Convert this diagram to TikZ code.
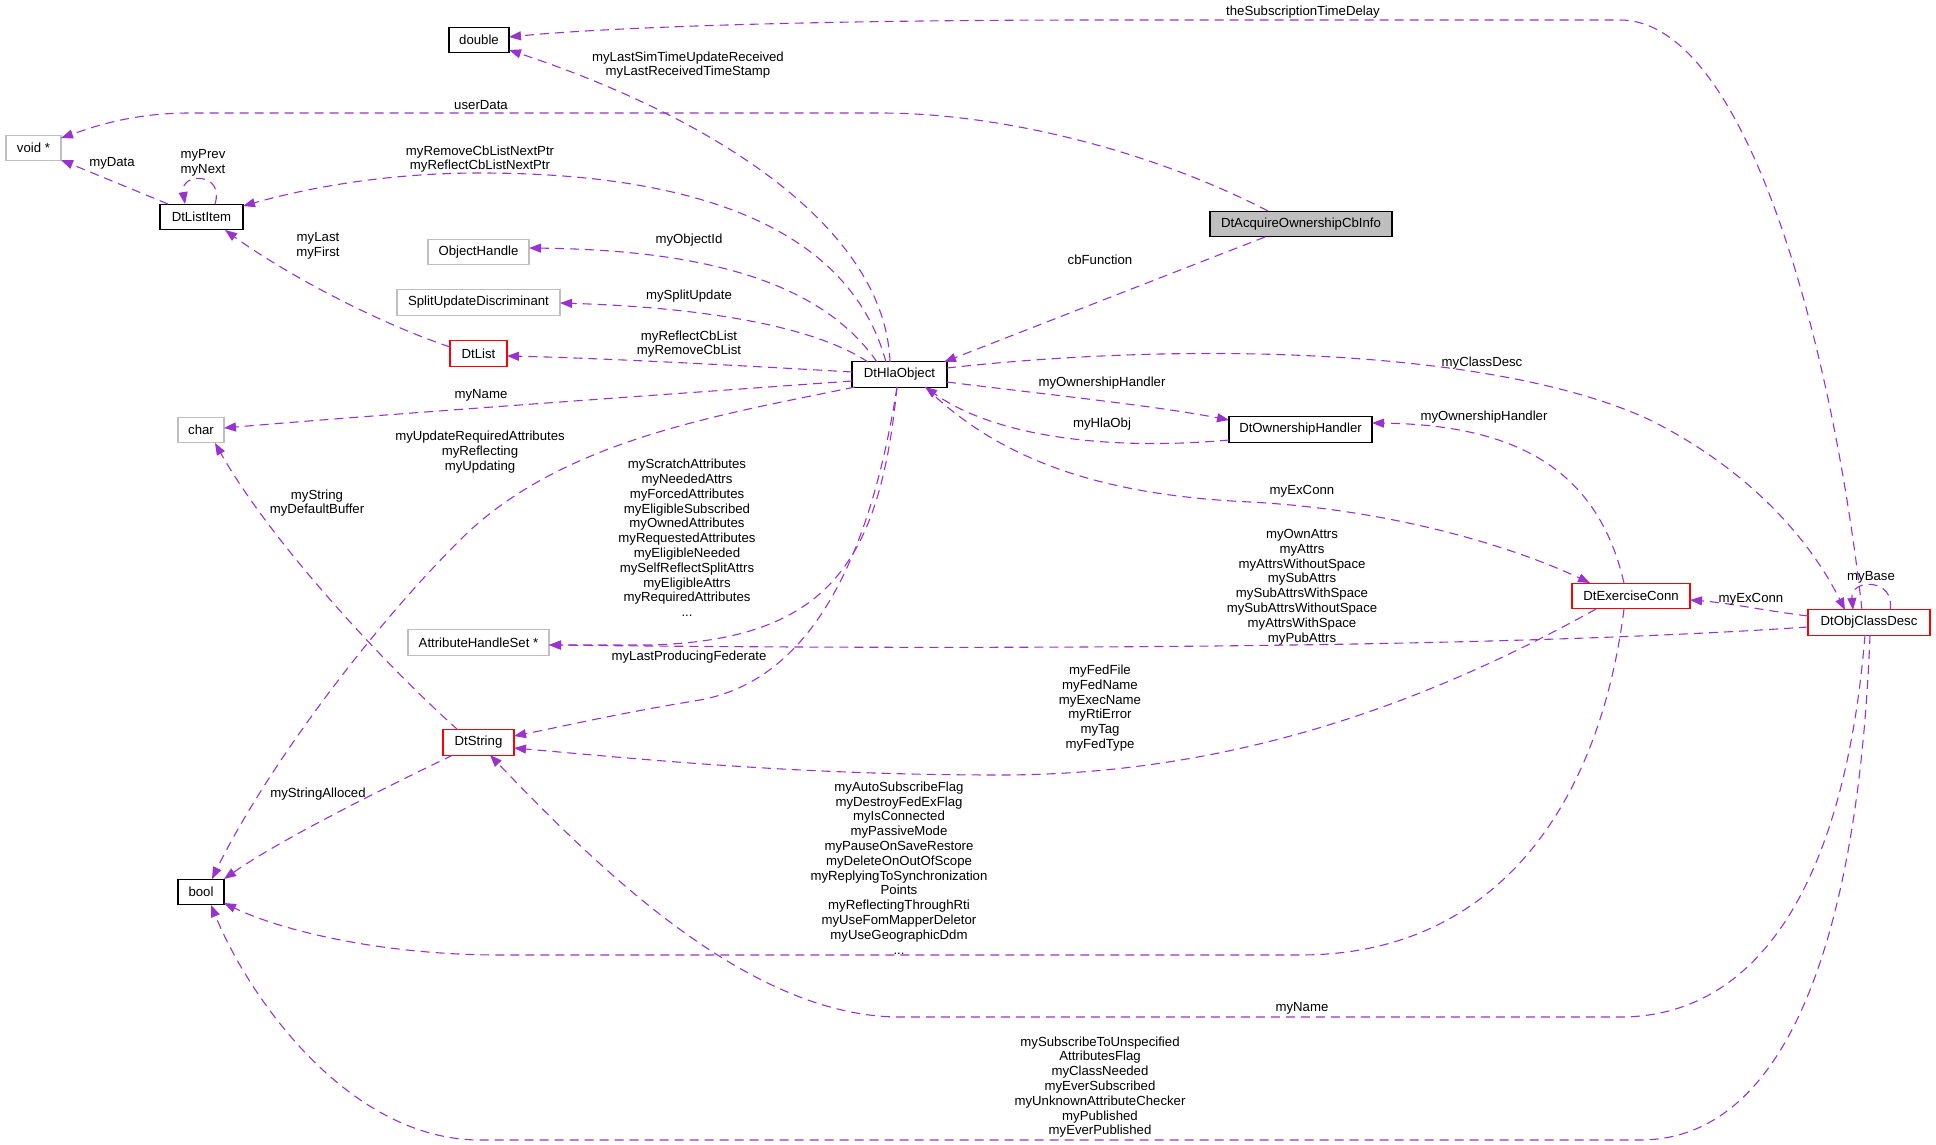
\documentclass[tikz,border=0pt]{standalone}
\usepackage{fontspec}
\setmainfont{Liberation Sans}
\usetikzlibrary{arrows.meta,calc}
\definecolor{edgec}{HTML}{9A32CD}
\definecolor{greyb}{HTML}{BFBFBF}
\begin{document}
\begin{tikzpicture}[x=1pt,y=-1pt,
  every node/.style={font=\fontsize{13.2}{14.8}\selectfont},
  cls/.style={draw=black,line width=1.3pt,minimum height=25.5pt,inner sep=0pt,fill=white},
  undoc/.style={draw=greyb,line width=1.3pt,minimum height=25.5pt,inner sep=0pt,fill=white},
  redcls/.style={draw=red,line width=1.3pt,minimum height=25.5pt,inner sep=0pt,fill=white},
  lbl/.style={align=center,inner sep=0pt},
  edge/.style={draw=edgec,line width=1.1pt,dash pattern=on 9pt off 6pt,-{Triangle[length=12pt,width=9pt,fill=edgec]}},
  plain/.style={draw=edgec,line width=1.1pt,dash pattern=on 9pt off 6pt}]
\useasboundingbox (0,0) rectangle (1936,1145);

% nodes
\node[cls,minimum width=60pt] (dbl) at (479,40) {double};
\node[undoc,minimum width=55pt] (voidp) at (33.5,148) {void *};
\node[cls,minimum width=83pt] (litem) at (201.5,217) {DtListItem};
\node[undoc,minimum width=101pt] (ohandle) at (478.5,252) {ObjectHandle};
\node[undoc,minimum width=163pt] (split) at (478.5,302.5) {SplitUpdateDiscriminant};
\node[redcls,minimum width=57pt] (dtlist) at (478.5,353.5) {DtList};
\node[undoc,minimum width=46pt] (chr) at (201,430) {char};
\node[undoc,minimum width=141pt] (ahs) at (478.5,642.5) {AttributeHandleSet *};
\node[redcls,minimum width=71pt] (dstr) at (478.5,742.5) {DtString};
\node[cls,minimum width=46pt] (bool) at (201,892) {bool};
\node[cls,minimum width=95pt] (hla) at (899.5,374.5) {DtHlaObject};
\node[cls,fill=greyb,minimum width=182pt] (acq) at (1301,224) {DtAcquireOwnershipCbInfo};
\node[cls,minimum width=143pt] (own) at (1300.5,429.5) {DtOwnershipHandler};
\node[redcls,minimum width=118pt] (exc) at (1631,596) {DtExerciseConn};
\node[redcls,minimum width=122pt] (ocd) at (1869,622.5) {DtObjClassDesc};

% edges
\draw[edge] ($(hla)+(-9.5,-12.5)$) .. controls (885,230) and (720,120) .. ($(dbl)+(30,10)$);
\draw[edge] ($(acq)+(-33,-13)$) .. controls (1150,150) and (1000,113) .. (880,113) -- (190,113) .. controls (130,113) and (90,128) .. ($(voidp)+(27.5,-10)$);
\draw[edge] ($(ocd)+(-7,-12.5)$) .. controls (1832,340) and (1745,20) .. (1620,20) -- (1100,20) .. controls (800,20) and (600,28) .. ($(dbl)+(30,-3)$);
\draw[edge] ($(litem)+(-33.5,-13)$) -- ($(voidp)+(27.5,12)$);
\draw[edge] ($(litem)+(13.5,-13)$) .. controls (225,172) and (180,172) .. ($(litem)+(-16.5,-13)$);
\draw[edge] ($(hla)+(-13.5,-12.5)$) .. controls (850,230) and (700,173) .. (480,173) .. controls (380,173) and (300,190) .. ($(litem)+(41.5,-11)$);
\draw[edge] ($(dtlist)+(-28.5,-6.5)$) .. controls (370,320) and (280,270) .. ($(litem)+(23.5,13)$);
\draw[edge] ($(hla)+(-22.5,-12.5)$) .. controls (820,280) and (700,250) .. ($(ohandle)+(50.5,-4)$);
\draw[edge] ($(hla)+(-31.5,-12.5)$) .. controls (820,330) and (720,308) .. ($(split)+(81.5,0.5)$);
\draw[edge] ($(hla)+(-47.5,-2.5)$) .. controls (750,366) and (600,358) .. ($(dtlist)+(28.5,2.5)$);
\draw[edge] ($(hla)+(-47.5,6.5)$) .. controls (700,392) and (400,413) .. ($(chr)+(23,-2)$);
\draw[edge] ($(hla)+(-44.5,12.5)$) .. controls (720,415) and (560,440) .. (460,540) .. controls (360,640) and (260,780) .. ($(bool)+(11,-13)$);
\draw[edge] ($(hla)+(-2.5,12.5)$) .. controls (880,560) and (830,640) .. (650,645) -- ($(ahs)+(70.5,2.5)$);
\draw[edge] ($(hla)+(-2.5,12.5)$) .. controls (870,560) and (810,680) .. (700,700) .. controls (620,713) and (560,727) .. ($(dstr)+(35.5,-6.5)$);
\draw[edge] ($(acq)+(-36,13)$) -- ($(hla)+(44.5,-12.5)$);
\draw[edge] ($(hla)+(47.5,7.5)$) .. controls (1050,395) and (1150,405) .. ($(own)+(-71.5,-9.5)$);
\draw[edge] ($(own)+(-71.5,10.5)$) .. controls (1120,450) and (1000,440) .. ($(hla)+(25.5,12.5)$);
\draw[edge] ($(hla)+(47.5,-6.5)$) .. controls (1200,340) and (1500,350) .. (1650,420) .. controls (1750,470) and (1810,540) .. ($(ocd)+(-24,-12.5)$);
\draw[edge] ($(hla)+(25.5,12.5)$) .. controls (1000,460) and (1100,495) .. (1250,502) .. controls (1400,510) and (1520,550) .. ($(exc)+(-41,-13)$);
\draw[edge] ($(exc)+(-7,-13)$) .. controls (1600,480) and (1530,425) .. ($(own)+(71.5,-6.5)$);
\draw[edge] ($(ocd)+(-61,-6.5)$) .. controls (1760,610) and (1730,603) .. ($(exc)+(59,4)$);
\draw[edge] ($(ocd)+(21,-12.5)$) .. controls (1896,578) and (1850,578) .. ($(ocd)+(-16,-12.5)$);
\draw[edge] ($(ocd)+(-61,4.5)$) .. controls (1500,648) and (1000,650) .. ($(ahs)+(70.5,2.5)$);
\draw[edge] ($(exc)+(-35,13)$) .. controls (1450,690) and (1250,775) .. (1000,775) .. controls (800,775) and (650,760) .. ($(dstr)+(35.5,5.5)$);
\draw[edge] ($(exc)+(-7,13)$) .. controls (1600,800) and (1500,955) .. (1300,955) -- (500,955) .. controls (380,955) and (280,930) .. ($(bool)+(23,11)$);
\draw[edge] ($(ocd)+(-4,12.5)$) .. controls (1845,880) and (1760,1017) .. (1620,1017) -- (900,1017) .. controls (750,1017) and (600,870) .. ($(dstr)+(11.5,12.5)$);
\draw[edge] ($(ocd)+(1,12.5)$) .. controls (1860,900) and (1800,1140) .. (1640,1140) -- (480,1140) .. controls (350,1140) and (250,1000) .. ($(bool)+(10,13)$);
\draw[edge] ($(dstr)+(-20.5,-12.5)$) .. controls (380,660) and (270,540) .. ($(chr)+(14,13)$);
\draw[edge] ($(dstr)+(-25.5,12.5)$) .. controls (380,790) and (280,840) .. ($(bool)+(23,-13)$);

% labels
\node[lbl] (l1) at (688,65) {myLastSimTimeUpdateReceived\\myLastReceivedTimeStamp};
\node[lbl] (l2) at (481,105) {userData};
\node[lbl] (l3) at (1303,12) {theSubscriptionTimeDelay};
\node[lbl] (l4) at (112,163) {myData};
\node[lbl] (l5) at (203,163) {myPrev\\myNext};
\node[lbl] (l6) at (480,159) {myRemoveCbListNextPtr\\myReflectCbListNextPtr};
\node[lbl] (l7) at (318,246) {myLast\\myFirst};
\node[lbl] (l8) at (689,240) {myObjectId};
\node[lbl] (l9) at (689,296) {mySplitUpdate};
\node[lbl] (l10) at (689,344) {myReflectCbList\\myRemoveCbList};
\node[lbl] (l11) at (481,395) {myName};
\node[lbl] (l12) at (480,452) {myUpdateRequiredAttributes\\myReflecting\\myUpdating};
\node[lbl] (l13) at (317,503) {myString\\myDefaultBuffer};
\node[lbl] (l14) at (687,538) {myScratchAttributes\\myNeededAttrs\\myForcedAttributes\\myEligibleSubscribed\\myOwnedAttributes\\myRequestedAttributes\\myEligibleNeeded\\mySelfReflectSplitAttrs\\myEligibleAttrs\\myRequiredAttributes\\...};
\node[lbl] (l15) at (689,657) {myLastProducingFederate};
\node[lbl] (l16) at (1100,260) {cbFunction};
\node[lbl] (l17) at (1102,383) {myOwnershipHandler};
\node[lbl] (l18) at (1102,424) {myHlaObj};
\node[lbl] (l19) at (1482,363) {myClassDesc};
\node[lbl] (l20) at (1302,491) {myExConn};
\node[lbl] (l21) at (1484,417) {myOwnershipHandler};
\node[lbl] (l22) at (1751,599) {myExConn};
\node[lbl] (l23) at (1871,577) {myBase};
\node[lbl] (l24) at (1302,587) {myOwnAttrs\\myAttrs\\myAttrsWithoutSpace\\mySubAttrs\\mySubAttrsWithSpace\\mySubAttrsWithoutSpace\\myAttrsWithSpace\\myPubAttrs};
\node[lbl] (l25) at (1100,708) {myFedFile\\myFedName\\myExecName\\myRtiError\\myTag\\myFedType};
\node[lbl] (l26) at (899,868) {myAutoSubscribeFlag\\myDestroyFedExFlag\\myIsConnected\\myPassiveMode\\myPauseOnSaveRestore\\myDeleteOnOutOfScope\\myReplyingToSynchronization\\Points\\myReflectingThroughRti\\myUseFomMapperDeletor\\myUseGeographicDdm\\...};
\node[lbl] (l27) at (1302,1008) {myName};
\node[lbl] (l28) at (1100,1087) {mySubscribeToUnspecified\\AttributesFlag\\myClassNeeded\\myEverSubscribed\\myUnknownAttributeChecker\\myPublished\\myEverPublished};
\node[lbl] (l29) at (318,794) {myStringAlloced};
\end{tikzpicture}
\end{document}
